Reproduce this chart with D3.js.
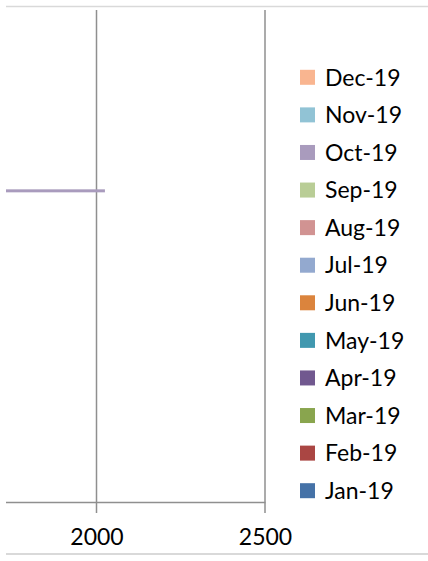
<!DOCTYPE html>
<html><head><meta charset="utf-8">
<script src="https://cdn.jsdelivr.net/npm/d3@7"></script>
<style>
html,body{margin:0;padding:0;background:#fff;}
svg{display:block;}
text{font-family:Lato,"Open Sans",sans-serif;fill:#000;}
</style>
</head><body>
<svg id="c" width="428" height="561"></svg>
<script>
// Categories (first category is drawn at the bottom, as in the original bar chart)
const categories = ["Cat 1","Cat 2","Cat 3","Cat 4","Cat 5","Cat 6","Cat 7","Cat 8","Cat 9"];
const months = ["Jan-19","Feb-19","Mar-19","Apr-19","May-19","Jun-19","Jul-19","Aug-19","Sep-19","Oct-19","Nov-19","Dec-19"];
const monthColors = ["#4572A7","#AA4643","#89A54E","#71588F","#4198AF","#DB843D","#93A9CF","#D19392","#B9CD96","#A99BBD","#91C3D5","#F9B590"];
// Series values (only values above ~1730 fall inside the visible part of the plot)
const jan19 = [1210,1340,1150,1420,1280,1390,1180,1260,1310];
const feb19 = [1190,1300,1120,1380,1250,1360,1160,1240,1290];
const mar19 = [1230,1370,1170,1440,1300,1410,1200,1280,1330];
const apr19 = [1250,1390,1190,1460,1320,1430,1220,1300,1350];
const may19 = [1270,1410,1210,1480,1340,1450,1240,1320,1370];
const jun19 = [1260,1400,1200,1470,1330,1440,1230,1310,1360];
const jul19 = [1280,1420,1220,1490,1350,1460,1250,1330,1380];
const aug19 = [1300,1440,1240,1510,1370,1480,1270,1350,1400];
const sep19 = [1290,1430,1230,1500,1360,1470,1260,1340,1390];
const oct19 = [1310,1450,1250,1520,1380,2025,1280,1360,1410];
const nov19 = [1320,1460,1260,1530,1390,1500,1290,1370,1420];
const dec19 = [1340,1480,1280,1550,1410,1520,1310,1390,1440];
const seriesValues = [jan19,feb19,mar19,apr19,may19,jun19,jul19,aug19,sep19,oct19,nov19,dec19];
const xTicks = [0,500,1000,1500,2000,2500];

const svg = d3.select("#c");
const W = 428, H = 561;
const plot = {left:6, right:265, top:10, bottom:502};
const gridColor = "#8f8f8f";
const borderColor = "#d9d9d9";

// x scale: the visible window is the right part of a 0–2500 axis
const x = d3.scaleLinear().domain([0,2500]).range([-577.5, 265]);
const visibleTicks = xTicks.filter(t => x(t) >= plot.left);
// y: categories (first at bottom), then months inside each band (Jan at bottom)
const y = d3.scaleBand().domain(categories.slice().reverse()).range([plot.top, plot.bottom]).padding(0);
const groupH = 36;
const yInner = d3.scaleBand().domain(months.slice().reverse()).range([0, groupH]).padding(0);

svg.append("defs").append("clipPath").attr("id","clip")
  .append("rect").attr("x",plot.left).attr("y",0).attr("width",W-plot.left).attr("height",H);

const g = svg.append("g").attr("clip-path","url(#clip)");

// chart-area border lines
g.append("line").attr("x1",plot.left).attr("x2",W).attr("y1",6.5).attr("y2",6.5)
  .attr("stroke",borderColor).attr("stroke-width",1.5);
g.append("line").attr("x1",plot.left).attr("x2",W).attr("y1",554).attr("y2",554)
  .attr("stroke",borderColor).attr("stroke-width",2);

// gridlines (extend below the axis as tick marks)
g.selectAll("line.grid").data(visibleTicks).join("line").attr("class","grid")
  .attr("x1",d=>x(d)).attr("x2",d=>x(d))
  .attr("y1",plot.top).attr("y2",513)
  .attr("stroke",gridColor).attr("stroke-width",1.5);

// bars
months.forEach((m,i)=>{
  g.selectAll(null).data(categories.map((c,j)=>({c, v: seriesValues[i][j]}))).join("rect")
    .attr("x",x(0))
    .attr("y",d=>y(d.c) + (y.bandwidth()-groupH)/2 + yInner(m))
    .attr("width",d=>x(d.v)-x(0))
    .attr("height",yInner.bandwidth())
    .attr("fill",monthColors[i]);
});

// axis line + labels
const axis = d3.axisBottom(x).tickValues(visibleTicks).tickSize(0).tickPadding(0).tickFormat(d3.format("d"));
const ax = g.append("g").attr("transform",`translate(0,${plot.bottom})`).call(axis);
ax.select(".domain").attr("stroke",gridColor).attr("stroke-width",1.5);
ax.selectAll(".tick text").attr("font-size",23).attr("fill","#000")
  .attr("font-family","Lato, 'Open Sans', sans-serif")
  .attr("dy",0).attr("y",43);

// legend (Dec at top)
const legend = svg.append("g");
const legItems = months.map((m,i)=>({m, c: monthColors[i]})).reverse();
const legY = d3.scalePoint().domain(legItems.map(d=>d.m)).range([77.3, 490.7]);
legItems.forEach(d=>{
  legend.append("rect").attr("x",300).attr("y",legY(d.m)-7.5).attr("width",15).attr("height",15).attr("fill",d.c);
  legend.append("text").attr("x",325).attr("y",legY(d.m)).attr("dy","0.36em")
    .attr("font-size",23).text(d.m);
});
</script>
</body></html>
